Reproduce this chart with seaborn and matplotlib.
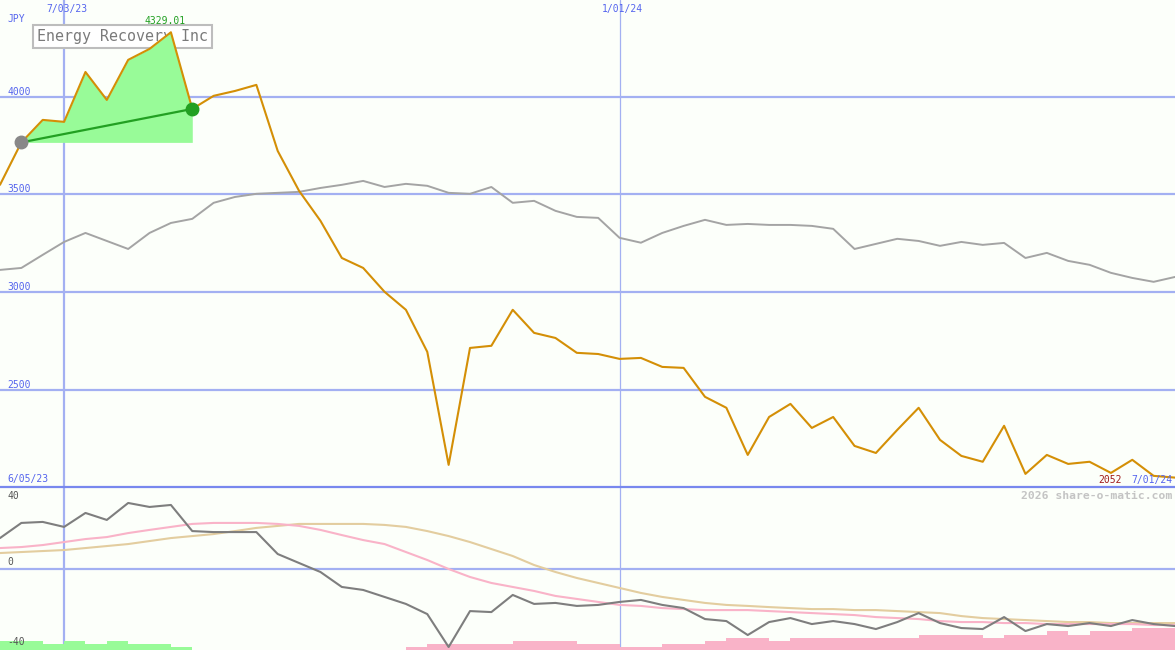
import matplotlib
matplotlib.use("Agg")
import matplotlib.pyplot as plt
import seaborn as sns
import numpy as np
import pandas as pd

# ---------------- data ----------------
start_date = "2023-06-12"
n_weeks = 56
dates = pd.date_range(start_date, periods=n_weeks, freq="7D")

price = [3549, 3766, 3881, 3871, 4126, 3983, 4188, 4244, 4329.01, 3937,
         4004, 4029, 4060, 3722, 3518, 3365, 3175, 3124, 3002, 2910,
         2695, 2117, 2715, 2726, 2910, 2792, 2766, 2690, 2684, 2659,
         2664, 2618, 2613, 2465, 2409, 2168, 2362, 2429, 2306, 2362,
         2214, 2178, 2296, 2409, 2245, 2163, 2133, 2317, 2071, 2168,
         2122, 2133, 2076, 2143, 2061, 2052]

benchmark = [3114, 3124, 3191, 3257, 3303, 3262, 3221, 3303, 3354, 3375,
             3457, 3487, 3503, 3508, 3513, 3533, 3549, 3569, 3538, 3554,
             3544, 3508, 3503, 3538, 3457, 3467, 3416, 3385, 3380, 3278,
             3253, 3303, 3339, 3370, 3344, 3349, 3344, 3344, 3339, 3324,
             3221, 3247, 3273, 3262, 3237, 3257, 3242, 3252, 3175, 3201,
             3160, 3140, 3099, 3073, 3053, 3078]

momentum = [18.3, 27.4, 28.0, 25.0, 33.4, 29.2, 39.4, 37.0, 38.2, 22.5,
            21.9, 21.9, 21.9, 8.7, 3.3, -2.1, -11.1, -12.9, -17.1, -21.3,
            -27.4, -47.2, -25.6, -26.2, -15.9, -21.3, -20.7, -22.5, -21.9, -20.1,
            -18.9, -21.9, -23.8, -30.4, -31.6, -40.0, -32.2, -29.8, -33.4, -31.6,
            -33.4, -36.4, -32.2, -26.8, -32.8, -35.8, -36.4, -29.2, -37.6, -33.4,
            -34.6, -32.8, -34.6, -31.0, -33.4, -34.6]

avg_fast = [12.3, 12.9, 14.1, 15.9, 17.7, 18.9, 21.3, 23.2, 25.0, 26.8,
            27.4, 27.4, 27.4, 26.8, 25.6, 23.2, 20.1, 17.1, 14.7, 9.9,
            5.1, -0.3, -5.1, -8.7, -11.1, -13.5, -16.5, -18.3, -20.1, -21.9,
            -22.5, -23.8, -24.4, -25.0, -25.0, -25.0, -25.6, -26.2, -26.8, -27.4,
            -28.0, -29.2, -29.8, -30.4, -31.6, -32.2, -32.2, -32.8, -32.8, -33.4,
            -33.4, -33.4, -33.4, -33.4, -34.0, -34.0]

avg_slow = [9.3, 9.9, 10.5, 11.1, 12.3, 13.5, 14.7, 16.5, 18.3, 19.5,
            20.7, 22.5, 24.4, 25.6, 26.8, 26.8, 26.8, 26.8, 26.2, 25.0,
            22.5, 19.5, 15.9, 11.7, 7.5, 2.1, -2.1, -5.7, -8.7, -11.7,
            -14.7, -17.1, -18.9, -20.7, -21.9, -22.5, -23.2, -23.8, -24.4, -24.4,
            -25.0, -25.0, -25.6, -26.2, -26.8, -28.6, -29.8, -30.4, -31.0, -31.6,
            -32.2, -32.2, -32.8, -32.8, -32.8, -32.8]

# bar heights (indicator units) for the 55 weekly intervals; side: +1 green, -1 pink
bar_height = [5.4, 5.4, 3.6, 5.4, 3.6, 5.4, 3.6, 3.6, 1.8, 0,
              0, 0, 0, 0, 0, 0, 0, 0, 0, 1.8,
              3.6, 3.6, 3.6, 3.6, 5.4, 5.4, 5.4, 3.6, 3.6, 1.8,
              1.8, 3.6, 3.6, 5.4, 7.2, 7.2, 5.4, 7.2, 7.2, 7.2,
              7.2, 7.2, 7.2, 9.0, 9.0, 9.0, 7.2, 9.0, 9.0, 11.4,
              9.0, 11.4, 11.4, 13.2, 13.2]
bar_side = [1] * 9 + [0] * 10 + [-1] * 36

price_ticks = [2500, 3000, 3500, 4000]
indicator_ticks = [40, 0, -40]
vgrid_dates = ["2023-07-03", "2024-01-01"]
vgrid_labels = ["7/03/23", "1/01/24"]
title = "Energy Recovery Inc"
currency = "JPY"
start_label = "6/05/23"
end_label = "7/01/24"
hl_start, hl_end = 1, 9
peak_idx = 8

# ---------------- style ----------------
sns.set_style("white")
plt.rcParams["font.family"] = ["DejaVu Sans Mono", "DejaVu Sans"]

BG = "#fcfffa"
GRID = "#a3b0f2"
BLUE_TXT = "#5565ee"
ORANGE = "#d48f06"
GRAY = "#a4a4a4"
DGRAY = "#7e7e7e"
PINK = "#f9b3c8"
TAN = "#e3cd9f"
LGREEN = "#98fb98"
DGREEN = "#22a022"

W, H = 1175, 650
fig = plt.figure(figsize=(W / 100, H / 100), dpi=100, facecolor=BG)
split = 487
ax = fig.add_axes([0, 1 - split / H, 1, split / H])
ax2 = fig.add_axes([0, 0, 1, 1 - split / H])
for a in (ax, ax2):
    a.set_facecolor(BG)
    for s in a.spines.values():
        s.set_visible(False)
    a.set_xticks([])
    a.set_yticks([])
    a.set_xlim(dates[0], dates[-1])

ax.set_ylim(2004, 4494)
ax2.set_ylim(-49, 49)

# grid lines
for v in price_ticks:
    ax.axhline(v, color=GRID, lw=1.6, zorder=1)
ax2.axhline(0, color=GRID, lw=1.6, zorder=1)
for d, lw in zip(vgrid_dates, [1.6, 0.9]):
    ax.axvline(pd.Timestamp(d), color=GRID, lw=lw, zorder=1)
    ax2.axvline(pd.Timestamp(d), color=GRID, lw=lw, zorder=1)

# title box (beneath the data marks)
ax.text(37 / W, 1 - 36.5 / split, title, transform=ax.transAxes,
        va="center", ha="left", color="#7a7a7a", fontsize=10.8, zorder=1.5,
        bbox=dict(boxstyle="square,pad=0.25", fc="white", ec="#bdbdbd", lw=1.5))

# highlight region
ax.fill_between(dates[hl_start:hl_end + 1], price[hl_start:hl_end + 1],
                price[hl_start], color=LGREEN, lw=0, zorder=2)

# main lines
df = pd.DataFrame({"date": dates, "price": price, "bench": benchmark,
                   "mom": momentum, "fast": avg_fast, "slow": avg_slow})
sns.lineplot(data=df, x="date", y="bench", ax=ax, color=GRAY, lw=1.4, zorder=3)
sns.lineplot(data=df, x="date", y="price", ax=ax, color=ORANGE, lw=1.5, zorder=4)
ax.plot([dates[hl_start], dates[hl_end]], [price[hl_start], price[hl_end]],
        color=DGREEN, lw=1.6, zorder=5)
ax.plot(dates[hl_start], price[hl_start], "o", color="#888888", ms=9, zorder=6)
ax.plot(dates[hl_end], price[hl_end], "o", color=DGREEN, ms=9, zorder=6)
ax.set_xlabel("")
ax.set_ylabel("")

# indicator panel
bdf = pd.DataFrame({"date": dates[:-1], "h": bar_height, "side": bar_side})
for side, col in [(1, LGREEN), (-1, PINK)]:
    sub = bdf[bdf.side == side]
    ax2.bar(sub.date, sub.h, width=7, align="edge", bottom=-49,
            color=col, lw=0, zorder=2)
sns.lineplot(data=df, x="date", y="slow", ax=ax2, color=TAN, lw=1.5, zorder=3)
sns.lineplot(data=df, x="date", y="fast", ax=ax2, color=PINK, lw=1.5, zorder=3)
sns.lineplot(data=df, x="date", y="mom", ax=ax2, color=DGRAY, lw=1.5, zorder=4)
ax2.set_xlabel("")
ax2.set_ylabel("")
ax2.set_ylim(-49, 49)
ax2.set_xlim(dates[0], dates[-1])

# boundary line
fig.add_artist(plt.Line2D([0, 1], [1 - split / H, 1 - split / H],
                          color="#7888ee", lw=1.6, transform=fig.transFigure))

# texts
def ftext(x, y, s, **kw):
    fig.text(x / W, 1 - y / H, s, va="center", **kw)

yt = ax.get_yaxis_transform()
for v in price_ticks:
    ax.text(7 / W, v, f"{v}", transform=yt, va="bottom", ha="left",
            color=BLUE_TXT, fontsize=7)
ftext(7, 19, currency, color=BLUE_TXT, fontsize=7)
xt = ax.get_xaxis_transform()
for d, lab in zip(vgrid_dates, vgrid_labels):
    ax.text(pd.Timestamp(d) + pd.Timedelta(days=1), 1 - 9 / split, lab,
            transform=xt, ha="center", va="center", color=BLUE_TXT, fontsize=7)
ax.text(dates[peak_idx] - pd.Timedelta(days=2), price[peak_idx] + 30,
        f"{price[peak_idx]:.2f}", ha="center", va="bottom", color=DGREEN,
        fontsize=7)
ftext(7, 479, start_label, color=BLUE_TXT, fontsize=7)
ftext(1172, 480, end_label, color=BLUE_TXT, fontsize=7, ha="right")
ftext(1122, 480, f"{price[-1]:.0f}", color="#a01c1c", fontsize=7, ha="right")
ftext(1172, 496, "2026 share-o-matic.com", color="#c4c4c4", fontsize=8.2,
      ha="right", fontweight="bold")

ftext(7, 496, str(indicator_ticks[0]), color="#555555", fontsize=7)
ftext(7, 562, str(indicator_ticks[1]), color="#555555", fontsize=7)
ftext(7, 642, str(indicator_ticks[2]), color="#555555", fontsize=7)

fig.savefig("out.png", dpi=100, facecolor=BG)
